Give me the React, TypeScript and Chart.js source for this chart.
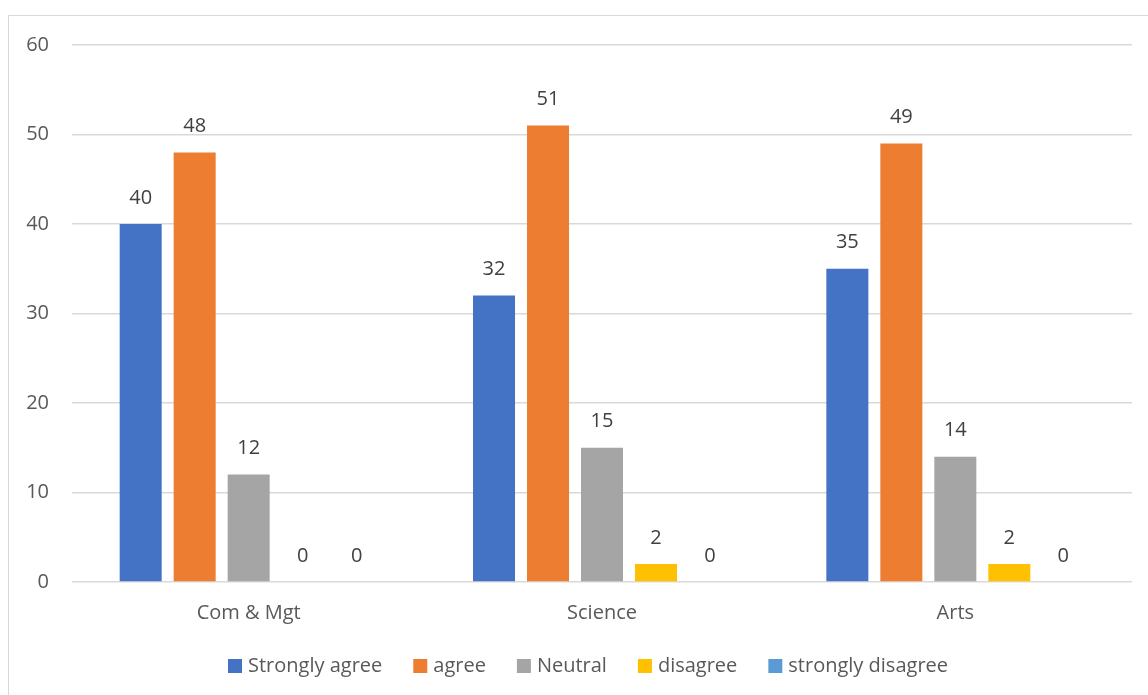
import React, { useEffect, useRef } from "react";
import { Chart, registerables } from "chart.js";

Chart.register(...registerables);

const categories = ["Com & Mgt", "Science", "Arts"];
const seriesNames = ["Strongly agree", "agree", "Neutral", "disagree", "strongly disagree"];
const stronglyAgree = [40, 32, 35];
const agree = [48, 51, 49];
const neutral = [12, 15, 14];
const disagree = [0, 2, 2];
const stronglyDisagree = [0, 0, 0];
const seriesColors = ["#4472C4", "#ED7D31", "#A5A5A5", "#FFC000", "#5B9BD5"];
const yTicks = [0, 10, 20, 30, 40, 50, 60];

const FONT = '"Open Sans", "Noto Sans", sans-serif';

const dataLabelPlugin = {
  id: "dataLabels",
  afterDatasetsDraw(chart: any) {
    const ctx = chart.ctx;
    ctx.save();
    ctx.font = `20px ${FONT}`;
    ctx.fillStyle = "#404040";
    ctx.textAlign = "center";
    ctx.textBaseline = "middle";
    chart.data.datasets.forEach((ds: any, i: number) => {
      const meta = chart.getDatasetMeta(i);
      meta.data.forEach((bar: any, j: number) => {
        ctx.fillText(String(ds.data[j]), bar.x, bar.y - 26);
      });
    });
    ctx.restore();
  },
};

const customLegendPlugin = {
  id: "customLegend",
  afterDraw(chart: any) {
    const ctx = chart.ctx;
    ctx.save();
    ctx.font = `20px ${FONT}`;
    const box = 14;
    const gap = 6;
    const spacing = 31;
    const widths = chart.data.datasets.map((ds: any) => ctx.measureText(ds.label).width);
    const total =
      widths.reduce((a: number, b: number) => a + b, 0) +
      widths.length * (box + gap) +
      spacing * (widths.length - 1);
    const cx = 588;
    const cy = 666;
    let x = cx - total / 2;
    chart.data.datasets.forEach((ds: any, i: number) => {
      ctx.fillStyle = ds.backgroundColor;
      ctx.fillRect(x, cy - box / 2, box, box);
      ctx.fillStyle = "#595959";
      ctx.textAlign = "left";
      ctx.textBaseline = "middle";
      ctx.fillText(ds.label, x + box + gap, cy);
      x += box + gap + widths[i] + spacing;
    });
    ctx.restore();
  },
};

export default function App() {
  const canvasRef = useRef<HTMLCanvasElement | null>(null);

  useEffect(() => {
    const canvas = canvasRef.current;
    if (!canvas) return;
    const values = [stronglyAgree, agree, neutral, disagree, stronglyDisagree];
    const chart = new Chart(canvas, {
      type: "bar",
      data: {
        labels: categories,
        datasets: seriesNames.map((name, i) => ({
          label: name,
          data: values[i],
          backgroundColor: seriesColors[i],
          borderWidth: 0,
          categoryPercentage: 0.764,
          barPercentage: 0.778,
        })),
      },
      options: {
        responsive: false,
        animation: false,
        devicePixelRatio: 1,
        layout: { padding: { left: 0, right: 16, top: 45, bottom: 59 } },
        plugins: {
          legend: { display: false },
          tooltip: { enabled: false },
        },
        scales: {
          x: {
            grid: { display: false },
            border: { display: false },
            ticks: {
              color: "#595959",
              font: { family: FONT, size: 20 },
              padding: 11,
            },
          },
          y: {
            min: 0,
            max: 60,
            afterFit(scale: any) {
              scale.width = 72;
            },
            afterBuildTicks(scale: any) {
              scale.ticks = yTicks.map((v) => ({ value: v }));
            },
            grid: { color: "#d9d9d9", lineWidth: 1.5, drawTicks: false },
            border: { display: false },
            ticks: {
              color: "#595959",
              font: { family: FONT, size: 20 },
              padding: 23,
            },
          },
        },
      },
      plugins: [dataLabelPlugin, customLegendPlugin],
    });
    return () => chart.destroy();
  }, []);

  return (
    <div
      style={{
        position: "fixed",
        left: 0,
        top: 0,
        width: 1148,
        height: 695,
        overflow: "hidden",
        background: "#ffffff",
      }}
    >
      <div
        style={{
          position: "absolute",
          left: 8,
          top: 15,
          width: 1200,
          height: 760,
          border: "1.5px solid #d9d9d9",
          boxSizing: "border-box",
        }}
      />
      <canvas
        ref={canvasRef}
        width={1148}
        height={695}
        style={{ position: "absolute", left: 0, top: 0, width: 1148, height: 695 }}
      />
    </div>
  );
}
